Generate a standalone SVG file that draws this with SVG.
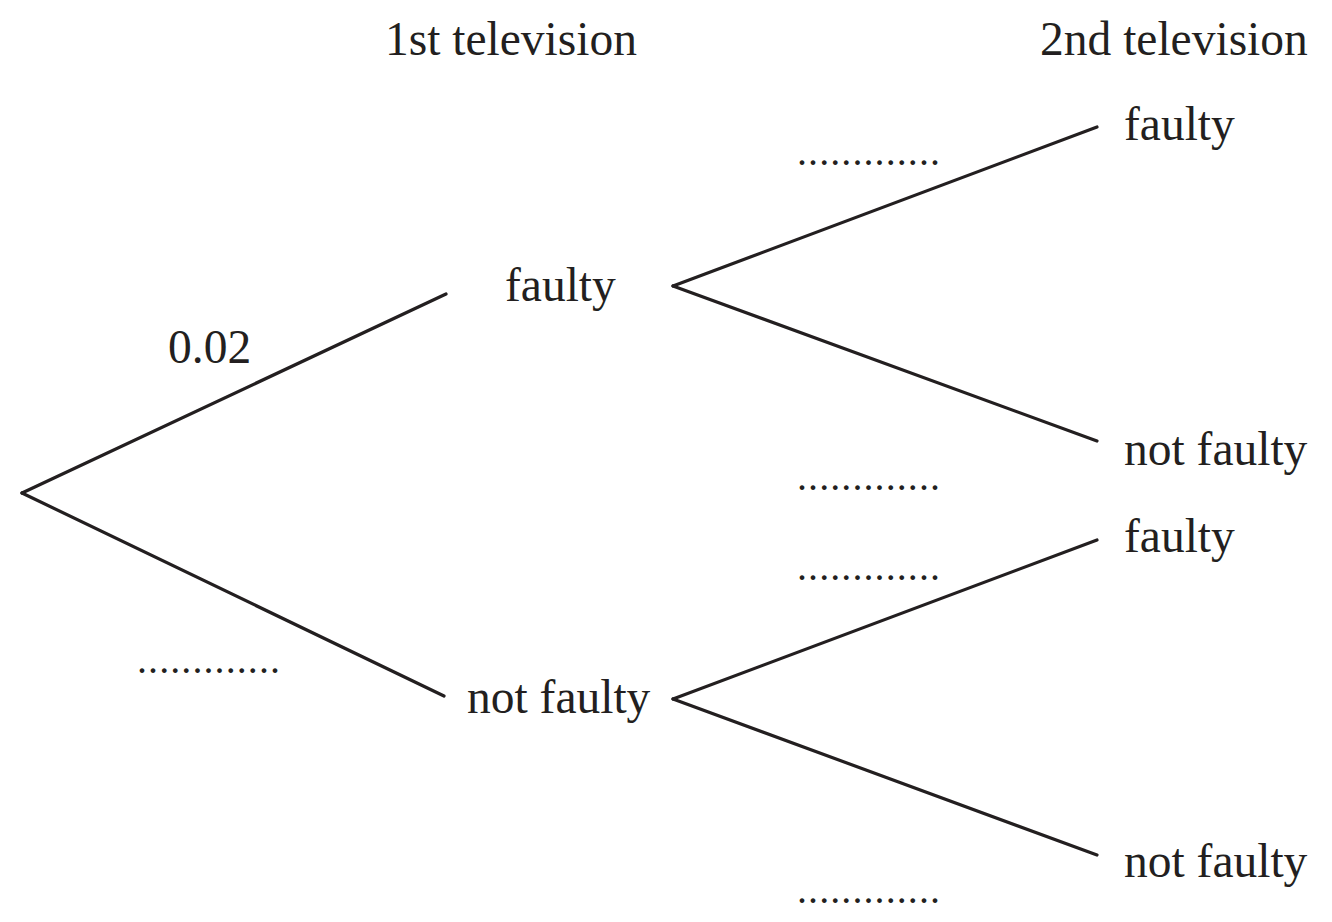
<svg xmlns="http://www.w3.org/2000/svg" width="1332" height="922" viewBox="0 0 1332 922">
<style>
text{font-family:"Liberation Serif","Times New Roman",serif;font-size:47.5px;fill:#231f20}
.d{font-size:40px}
line{stroke:#231f20;stroke-width:3.2;stroke-linecap:round}
</style>
<rect width="1332" height="922" fill="#fff"/>
<g id="connectors">
<line x1="22" y1="493" x2="446" y2="294"/>
<line x1="22" y1="493" x2="444" y2="696"/>
<line x1="673" y1="286" x2="1097" y2="127"/>
<line x1="673" y1="286" x2="1097" y2="441"/>
<line x1="673" y1="699" x2="1097" y2="540"/>
<line x1="673" y1="699" x2="1097" y2="855"/>
</g>
<g id="headers">
<text x="385" y="55">1st television</text>
<text x="1040" y="55">2nd television</text>
</g>
<g id="n1"><text x="505" y="301">faulty</text></g>
<g id="n2"><text x="467" y="713">not faulty</text></g>
<g id="n3"><text x="1124" y="140">faulty</text></g>
<g id="n4"><text x="1124" y="465">not faulty</text></g>
<g id="n5"><text x="1124" y="552">faulty</text></g>
<g id="n6"><text x="1124" y="877">not faulty</text></g>
<g id="labels">
<text x="168" y="363">0.02</text>
<text class="d" x="137" y="673" textLength="143" lengthAdjust="spacing">.............</text>
<text class="d" x="797" y="165" textLength="143" lengthAdjust="spacing">.............</text>
<text class="d" x="797" y="490" textLength="143" lengthAdjust="spacing">.............</text>
<text class="d" x="797" y="580" textLength="143" lengthAdjust="spacing">.............</text>
<text class="d" x="797" y="903" textLength="143" lengthAdjust="spacing">.............</text>
</g>
</svg>
